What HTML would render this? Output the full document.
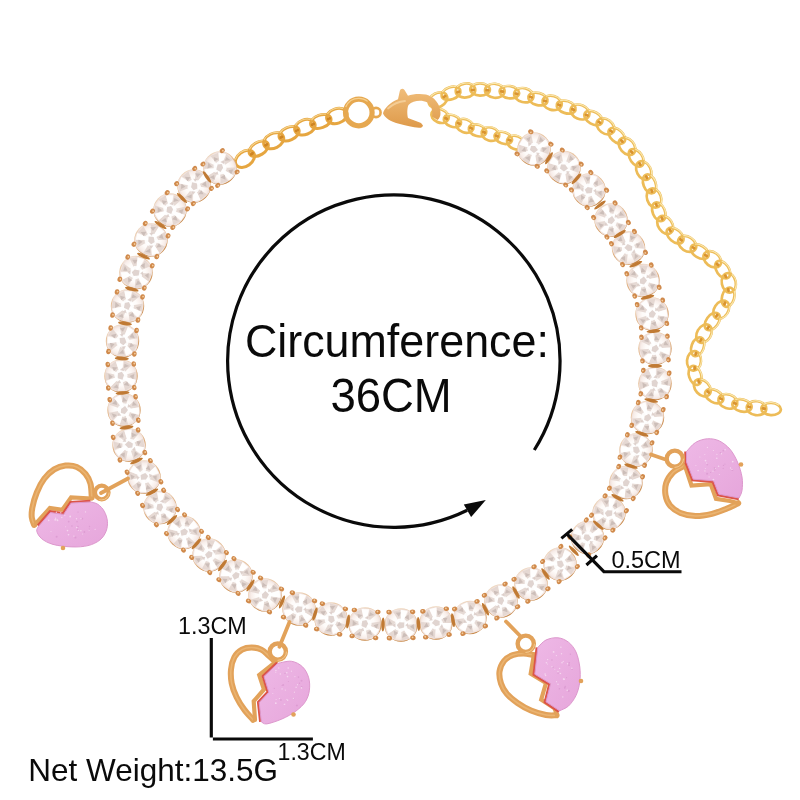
<!DOCTYPE html>
<html><head><meta charset="utf-8"><title>Necklace</title>
<style>
html,body{margin:0;padding:0;background:#fff;}
body{width:800px;height:800px;overflow:hidden;font-family:"Liberation Sans",sans-serif;}
svg{display:block}
text{font-family:"Liberation Sans",sans-serif;fill:#0a0a0a}
</style></head><body>
<svg width="800" height="800" viewBox="0 0 800 800">
<defs>
<radialGradient id="sg" cx="50%" cy="50%" r="50%">
<stop offset="0" stop-color="#ffffff"/><stop offset=".6" stop-color="#FEFBF9"/><stop offset=".88" stop-color="#F8EEEA"/><stop offset="1" stop-color="#F0E1DB"/>
</radialGradient>
<linearGradient id="pinkg" x1="0" y1="0" x2="1" y2="1">
<stop offset="0" stop-color="#EEB8E6"/><stop offset="1" stop-color="#E6A6DB"/>
</linearGradient>
<linearGradient id="claspg" x1="0" y1="0" x2="0" y2="1">
<stop offset="0" stop-color="#F0BD7A"/><stop offset="1" stop-color="#DE9A4A"/>
</linearGradient>
<filter id="noop" x="0" y="0" width="800" height="800" filterUnits="userSpaceOnUse"><feOffset dx="0" dy="0"/></filter>
<linearGradient id="rimg" x1="0.2" y1="0" x2="0.6" y2="1"><stop offset="0" stop-color="#F1DFCC"/><stop offset=".45" stop-color="#E2B486"/><stop offset="1" stop-color="#C4823F"/></linearGradient>
<g id="rim"><circle r="16.7" fill="url(#rimg)"/></g>
<g id="st">
<rect x="-15.5" y="-15.7" width="31" height="31.4" rx="13.4" fill="url(#sg)"/>
</g>
<g id="pr">
<ellipse cx="-11.8" cy="-13" rx="2.7" ry="2.3" fill="#D08A4C"/><ellipse cx="11.8" cy="-13" rx="2.7" ry="2.3" fill="#D08A4C"/>
<ellipse cx="-11.8" cy="13" rx="2.7" ry="2.3" fill="#D08A4C"/><ellipse cx="11.8" cy="13" rx="2.7" ry="2.3" fill="#D08A4C"/>
<circle cx="-12.2" cy="-13.5" r="0.9" fill="#F4CC9C"/><circle cx="11.4" cy="-13.5" r="0.9" fill="#F4CC9C"/>
<circle cx="-12.2" cy="12.5" r="0.9" fill="#F4CC9C"/><circle cx="11.4" cy="12.5" r="0.9" fill="#F4CC9C"/>
</g>
<g id="fc">
<path d="M0 0L-14.5 -5L-10 -11.5Z M0 0L-3 -15L5 -14.6Z M0 0L11.5 -10.6L15 -3Z M0 0L15 5L10.5 11.5Z M0 0L4.500 14.7L-4 14.9Z M0 0L-11 10.5L-15 3Z" fill="#E2D3CE" opacity=".85"/>
<path d="M-12 -6L-8 -10L-7 -5Z M-1 -13L3 -9L-2 -8Z M9 -9L13 -5L8 -4.500Z M12 4L9 9L7 4Z M2 12.500L-2 9L3 8Z M-10 8L-12.500 3.500L-7 5Z" fill="#C6B6B1" opacity=".8"/>
<path d="M0 0L-10 -11.5L-4 -15Z M0 0L15 -3L15 4.500Z M0 0L-4 14.9L-10.5 11Z" fill="#ffffff" opacity=".9"/>
<path d="M-6 -3L-2 -7L4 -6L7 -1L5 5L-1 7L-6 3Z" fill="#ffffff" opacity=".9"/>
<path d="M-3 -1L1 -4L4 0L1 4L-3 3Z M-5.500 2L-2.500 5.500L-6 6Z M4 -6L7 -3L3.500 -2.500Z" fill="#D8C9C4" opacity=".8"/>
</g>
</defs>
<rect width="800" height="800" fill="#ffffff"/>

<!-- extension chain + chains -->
<g id="chains">
<g transform="translate(438.0 100.0) rotate(-27.2)"><ellipse rx="9.8" ry="7.0" fill="none" stroke="#EDBC58" stroke-width="2.7"/><path d="M-7.4 -5.0A9.8 7.0 0 0 1 7.4 -5.0" fill="none" stroke="#FAE8B0" stroke-width="1.1" stroke-linecap="round"/></g>
<g transform="translate(451.0 93.3) rotate(-19.1)"><ellipse rx="9.8" ry="6.1" fill="none" stroke="#EDBC58" stroke-width="2.7"/><path d="M-7.4 -4.4A9.8 6.1 0 0 1 7.4 -4.4" fill="none" stroke="#FAE8B0" stroke-width="1.1" stroke-linecap="round"/></g>
<g transform="translate(465.5 90.5) rotate(-7.4)"><ellipse rx="9.8" ry="7.0" fill="none" stroke="#EDBC58" stroke-width="2.7"/><path d="M-7.4 -5.0A9.8 7.0 0 0 1 7.4 -5.0" fill="none" stroke="#FAE8B0" stroke-width="1.1" stroke-linecap="round"/></g>
<g transform="translate(480.1 89.5) rotate(0.7)"><ellipse rx="9.8" ry="6.1" fill="none" stroke="#EDBC58" stroke-width="2.7"/><path d="M-7.4 -4.4A9.8 6.1 0 0 1 7.4 -4.4" fill="none" stroke="#FAE8B0" stroke-width="1.1" stroke-linecap="round"/></g>
<g transform="translate(494.8 90.8) rotate(5.2)"><ellipse rx="9.8" ry="7.0" fill="none" stroke="#EDBC58" stroke-width="2.7"/><path d="M-7.4 -5.0A9.8 7.0 0 0 1 7.4 -5.0" fill="none" stroke="#FAE8B0" stroke-width="1.1" stroke-linecap="round"/></g>
<g transform="translate(509.4 92.2) rotate(8.6)"><ellipse rx="9.8" ry="6.1" fill="none" stroke="#EDBC58" stroke-width="2.7"/><path d="M-7.4 -4.4A9.8 6.1 0 0 1 7.4 -4.4" fill="none" stroke="#FAE8B0" stroke-width="1.1" stroke-linecap="round"/></g>
<g transform="translate(523.8 95.2) rotate(13.5)"><ellipse rx="9.8" ry="7.0" fill="none" stroke="#EDBC58" stroke-width="2.7"/><path d="M-7.4 -5.0A9.8 7.0 0 0 1 7.4 -5.0" fill="none" stroke="#FAE8B0" stroke-width="1.1" stroke-linecap="round"/></g>
<g transform="translate(537.9 99.0) rotate(15.2)"><ellipse rx="9.8" ry="6.1" fill="none" stroke="#EDBC58" stroke-width="2.7"/><path d="M-7.4 -4.4A9.8 6.1 0 0 1 7.4 -4.4" fill="none" stroke="#FAE8B0" stroke-width="1.1" stroke-linecap="round"/></g>
<g transform="translate(552.1 102.9) rotate(15.9)"><ellipse rx="9.8" ry="7.0" fill="none" stroke="#EDBC58" stroke-width="2.7"/><path d="M-7.4 -5.0A9.8 7.0 0 0 1 7.4 -5.0" fill="none" stroke="#FAE8B0" stroke-width="1.1" stroke-linecap="round"/></g>
<g transform="translate(566.2 107.1) rotate(18.1)"><ellipse rx="9.8" ry="6.1" fill="none" stroke="#EDBC58" stroke-width="2.7"/><path d="M-7.4 -4.4A9.8 6.1 0 0 1 7.4 -4.4" fill="none" stroke="#FAE8B0" stroke-width="1.1" stroke-linecap="round"/></g>
<g transform="translate(580.0 112.0) rotate(22.2)"><ellipse rx="9.8" ry="7.0" fill="none" stroke="#EDBC58" stroke-width="2.7"/><path d="M-7.4 -5.0A9.8 7.0 0 0 1 7.4 -5.0" fill="none" stroke="#FAE8B0" stroke-width="1.1" stroke-linecap="round"/></g>
<g transform="translate(593.4 118.1) rotate(29.5)"><ellipse rx="9.8" ry="6.1" fill="none" stroke="#EDBC58" stroke-width="2.7"/><path d="M-7.4 -4.4A9.8 6.1 0 0 1 7.4 -4.4" fill="none" stroke="#FAE8B0" stroke-width="1.1" stroke-linecap="round"/></g>
<g transform="translate(605.5 126.4) rotate(37.0)"><ellipse rx="9.8" ry="7.0" fill="none" stroke="#EDBC58" stroke-width="2.7"/><path d="M-7.4 -5.0A9.8 7.0 0 0 1 7.4 -5.0" fill="none" stroke="#FAE8B0" stroke-width="1.1" stroke-linecap="round"/></g>
<g transform="translate(616.8 135.8) rotate(42.7)"><ellipse rx="9.8" ry="6.1" fill="none" stroke="#EDBC58" stroke-width="2.7"/><path d="M-7.4 -4.4A9.8 6.1 0 0 1 7.4 -4.4" fill="none" stroke="#FAE8B0" stroke-width="1.1" stroke-linecap="round"/></g>
<g transform="translate(627.0 146.3) rotate(48.6)"><ellipse rx="9.8" ry="7.0" fill="none" stroke="#EDBC58" stroke-width="2.7"/><path d="M-7.4 -5.0A9.8 7.0 0 0 1 7.4 -5.0" fill="none" stroke="#FAE8B0" stroke-width="1.1" stroke-linecap="round"/></g>
<g transform="translate(636.2 157.8) rotate(55.4)"><ellipse rx="9.8" ry="6.1" fill="none" stroke="#EDBC58" stroke-width="2.7"/><path d="M-7.4 -4.4A9.8 6.1 0 0 1 7.4 -4.4" fill="none" stroke="#FAE8B0" stroke-width="1.1" stroke-linecap="round"/></g>
<g transform="translate(643.7 170.5) rotate(62.9)"><ellipse rx="9.8" ry="7.0" fill="none" stroke="#EDBC58" stroke-width="2.7"/><path d="M-7.4 -5.0A9.8 7.0 0 0 1 7.4 -5.0" fill="none" stroke="#FAE8B0" stroke-width="1.1" stroke-linecap="round"/></g>
<g transform="translate(649.5 183.9) rotate(69.5)"><ellipse rx="9.8" ry="6.1" fill="none" stroke="#EDBC58" stroke-width="2.7"/><path d="M-7.4 -4.4A9.8 6.1 0 0 1 7.4 -4.4" fill="none" stroke="#FAE8B0" stroke-width="1.1" stroke-linecap="round"/></g>
<g transform="translate(654.0 198.0) rotate(71.6)"><ellipse rx="9.8" ry="7.0" fill="none" stroke="#EDBC58" stroke-width="2.7"/><path d="M-7.4 -5.0A9.8 7.0 0 0 1 7.4 -5.0" fill="none" stroke="#FAE8B0" stroke-width="1.1" stroke-linecap="round"/></g>
<g transform="translate(658.8 211.8) rotate(67.4)"><ellipse rx="9.8" ry="6.1" fill="none" stroke="#EDBC58" stroke-width="2.7"/><path d="M-7.4 -4.4A9.8 6.1 0 0 1 7.4 -4.4" fill="none" stroke="#FAE8B0" stroke-width="1.1" stroke-linecap="round"/></g>
<g transform="translate(665.2 224.9) rotate(55.7)"><ellipse rx="9.8" ry="7.0" fill="none" stroke="#EDBC58" stroke-width="2.7"/><path d="M-7.4 -5.0A9.8 7.0 0 0 1 7.4 -5.0" fill="none" stroke="#FAE8B0" stroke-width="1.1" stroke-linecap="round"/></g>
<g transform="translate(675.1 235.6) rotate(40.8)"><ellipse rx="9.8" ry="6.1" fill="none" stroke="#EDBC58" stroke-width="2.7"/><path d="M-7.4 -4.4A9.8 6.1 0 0 1 7.4 -4.4" fill="none" stroke="#FAE8B0" stroke-width="1.1" stroke-linecap="round"/></g>
<g transform="translate(687.2 243.9) rotate(33.1)"><ellipse rx="9.8" ry="7.0" fill="none" stroke="#EDBC58" stroke-width="2.7"/><path d="M-7.4 -5.0A9.8 7.0 0 0 1 7.4 -5.0" fill="none" stroke="#FAE8B0" stroke-width="1.1" stroke-linecap="round"/></g>
<g transform="translate(699.7 251.7) rotate(31.5)"><ellipse rx="9.8" ry="6.1" fill="none" stroke="#EDBC58" stroke-width="2.7"/><path d="M-7.4 -4.4A9.8 6.1 0 0 1 7.4 -4.4" fill="none" stroke="#FAE8B0" stroke-width="1.1" stroke-linecap="round"/></g>
<g transform="translate(712.3 259.3) rotate(38.0)"><ellipse rx="9.8" ry="7.0" fill="none" stroke="#EDBC58" stroke-width="2.7"/><path d="M-7.4 -5.0A9.8 7.0 0 0 1 7.4 -5.0" fill="none" stroke="#FAE8B0" stroke-width="1.1" stroke-linecap="round"/></g>
<g transform="translate(722.7 269.7) rotate(55.1)"><ellipse rx="9.8" ry="6.1" fill="none" stroke="#EDBC58" stroke-width="2.7"/><path d="M-7.4 -4.4A9.8 6.1 0 0 1 7.4 -4.4" fill="none" stroke="#FAE8B0" stroke-width="1.1" stroke-linecap="round"/></g>
<g transform="translate(728.8 282.9) rotate(78.8)"><ellipse rx="9.8" ry="7.0" fill="none" stroke="#EDBC58" stroke-width="2.7"/><path d="M-7.4 -5.0A9.8 7.0 0 0 1 7.4 -5.0" fill="none" stroke="#FAE8B0" stroke-width="1.1" stroke-linecap="round"/></g>
<g transform="translate(728.1 297.2) rotate(105.7)"><ellipse rx="9.8" ry="6.1" fill="none" stroke="#EDBC58" stroke-width="2.7"/><path d="M-7.4 -4.4A9.8 6.1 0 0 1 7.4 -4.4" fill="none" stroke="#FAE8B0" stroke-width="1.1" stroke-linecap="round"/></g>
<g transform="translate(721.2 309.8) rotate(123.1)"><ellipse rx="9.8" ry="7.0" fill="none" stroke="#EDBC58" stroke-width="2.7"/><path d="M-7.4 -5.0A9.8 7.0 0 0 1 7.4 -5.0" fill="none" stroke="#FAE8B0" stroke-width="1.1" stroke-linecap="round"/></g>
<g transform="translate(712.3 321.5) rotate(125.8)"><ellipse rx="9.8" ry="6.1" fill="none" stroke="#EDBC58" stroke-width="2.7"/><path d="M-7.4 -4.4A9.8 6.1 0 0 1 7.4 -4.4" fill="none" stroke="#FAE8B0" stroke-width="1.1" stroke-linecap="round"/></g>
<g transform="translate(704.0 333.6) rotate(120.2)"><ellipse rx="9.8" ry="7.0" fill="none" stroke="#EDBC58" stroke-width="2.7"/><path d="M-7.4 -5.0A9.8 7.0 0 0 1 7.4 -5.0" fill="none" stroke="#FAE8B0" stroke-width="1.1" stroke-linecap="round"/></g>
<g transform="translate(697.6 346.8) rotate(110.2)"><ellipse rx="9.8" ry="6.1" fill="none" stroke="#EDBC58" stroke-width="2.7"/><path d="M-7.4 -4.4A9.8 6.1 0 0 1 7.4 -4.4" fill="none" stroke="#FAE8B0" stroke-width="1.1" stroke-linecap="round"/></g>
<g transform="translate(694.0 360.9) rotate(94.9)"><ellipse rx="9.8" ry="7.0" fill="none" stroke="#EDBC58" stroke-width="2.7"/><path d="M-7.4 -5.0A9.8 7.0 0 0 1 7.4 -5.0" fill="none" stroke="#FAE8B0" stroke-width="1.1" stroke-linecap="round"/></g>
<g transform="translate(695.1 375.4) rotate(72.8)"><ellipse rx="9.8" ry="6.1" fill="none" stroke="#EDBC58" stroke-width="2.7"/><path d="M-7.4 -4.4A9.8 6.1 0 0 1 7.4 -4.4" fill="none" stroke="#FAE8B0" stroke-width="1.1" stroke-linecap="round"/></g>
<g transform="translate(702.3 387.8) rotate(47.7)"><ellipse rx="9.8" ry="7.0" fill="none" stroke="#EDBC58" stroke-width="2.7"/><path d="M-7.4 -5.0A9.8 7.0 0 0 1 7.4 -5.0" fill="none" stroke="#FAE8B0" stroke-width="1.1" stroke-linecap="round"/></g>
<g transform="translate(714.2 396.2) rotate(28.0)"><ellipse rx="9.8" ry="6.1" fill="none" stroke="#EDBC58" stroke-width="2.7"/><path d="M-7.4 -4.4A9.8 6.1 0 0 1 7.4 -4.4" fill="none" stroke="#FAE8B0" stroke-width="1.1" stroke-linecap="round"/></g>
<g transform="translate(727.9 401.4) rotate(18.3)"><ellipse rx="9.8" ry="7.0" fill="none" stroke="#EDBC58" stroke-width="2.7"/><path d="M-7.4 -5.0A9.8 7.0 0 0 1 7.4 -5.0" fill="none" stroke="#FAE8B0" stroke-width="1.1" stroke-linecap="round"/></g>
<g transform="translate(742.0 405.5) rotate(13.5)"><ellipse rx="9.8" ry="6.1" fill="none" stroke="#EDBC58" stroke-width="2.7"/><path d="M-7.4 -4.4A9.8 6.1 0 0 1 7.4 -4.4" fill="none" stroke="#FAE8B0" stroke-width="1.1" stroke-linecap="round"/></g>
<g transform="translate(756.5 408.2) rotate(6.9)"><ellipse rx="9.8" ry="7.0" fill="none" stroke="#EDBC58" stroke-width="2.7"/><path d="M-7.4 -5.0A9.8 7.0 0 0 1 7.4 -5.0" fill="none" stroke="#FAE8B0" stroke-width="1.1" stroke-linecap="round"/></g>
<g transform="translate(771.1 409.0) rotate(2.9)"><ellipse rx="9.8" ry="6.1" fill="none" stroke="#EDBC58" stroke-width="2.7"/><path d="M-7.4 -4.4A9.8 6.1 0 0 1 7.4 -4.4" fill="none" stroke="#FAE8B0" stroke-width="1.1" stroke-linecap="round"/></g>
<g transform="translate(444.5 96.6) rotate(-27.2)"><ellipse rx="2.3" ry="1.5" fill="#DA9430"/></g>
<g transform="translate(458.2 91.9) rotate(-19.1)"><ellipse rx="2.3" ry="1.5" fill="#DA9430"/></g>
<g transform="translate(472.8 90.0) rotate(-7.4)"><ellipse rx="2.3" ry="1.5" fill="#DA9430"/></g>
<g transform="translate(487.4 90.2) rotate(0.7)"><ellipse rx="2.3" ry="1.5" fill="#DA9430"/></g>
<g transform="translate(502.1 91.5) rotate(5.2)"><ellipse rx="2.3" ry="1.5" fill="#DA9430"/></g>
<g transform="translate(516.6 93.7) rotate(8.6)"><ellipse rx="2.3" ry="1.5" fill="#DA9430"/></g>
<g transform="translate(530.9 97.1) rotate(13.5)"><ellipse rx="2.3" ry="1.5" fill="#DA9430"/></g>
<g transform="translate(545.0 101.0) rotate(15.2)"><ellipse rx="2.3" ry="1.5" fill="#DA9430"/></g>
<g transform="translate(559.2 105.0) rotate(15.9)"><ellipse rx="2.3" ry="1.5" fill="#DA9430"/></g>
<g transform="translate(573.1 109.5) rotate(18.1)"><ellipse rx="2.3" ry="1.5" fill="#DA9430"/></g>
<g transform="translate(586.7 115.1) rotate(22.2)"><ellipse rx="2.3" ry="1.5" fill="#DA9430"/></g>
<g transform="translate(599.4 122.3) rotate(29.5)"><ellipse rx="2.3" ry="1.5" fill="#DA9430"/></g>
<g transform="translate(611.1 131.1) rotate(37.0)"><ellipse rx="2.3" ry="1.5" fill="#DA9430"/></g>
<g transform="translate(621.9 141.1) rotate(42.7)"><ellipse rx="2.3" ry="1.5" fill="#DA9430"/></g>
<g transform="translate(631.6 152.1) rotate(48.6)"><ellipse rx="2.3" ry="1.5" fill="#DA9430"/></g>
<g transform="translate(639.9 164.1) rotate(55.4)"><ellipse rx="2.3" ry="1.5" fill="#DA9430"/></g>
<g transform="translate(646.6 177.2) rotate(62.9)"><ellipse rx="2.3" ry="1.5" fill="#DA9430"/></g>
<g transform="translate(651.8 190.9) rotate(69.5)"><ellipse rx="2.3" ry="1.5" fill="#DA9430"/></g>
<g transform="translate(656.4 204.9) rotate(71.6)"><ellipse rx="2.3" ry="1.5" fill="#DA9430"/></g>
<g transform="translate(662.0 218.4) rotate(67.4)"><ellipse rx="2.3" ry="1.5" fill="#DA9430"/></g>
<g transform="translate(670.1 230.3) rotate(55.7)"><ellipse rx="2.3" ry="1.5" fill="#DA9430"/></g>
<g transform="translate(681.1 239.8) rotate(40.8)"><ellipse rx="2.3" ry="1.5" fill="#DA9430"/></g>
<g transform="translate(693.5 247.8) rotate(33.1)"><ellipse rx="2.3" ry="1.5" fill="#DA9430"/></g>
<g transform="translate(706.0 255.5) rotate(31.5)"><ellipse rx="2.3" ry="1.5" fill="#DA9430"/></g>
<g transform="translate(717.5 264.5) rotate(38.0)"><ellipse rx="2.3" ry="1.5" fill="#DA9430"/></g>
<g transform="translate(725.7 276.3) rotate(55.1)"><ellipse rx="2.3" ry="1.5" fill="#DA9430"/></g>
<g transform="translate(728.4 290.0) rotate(78.8)"><ellipse rx="2.3" ry="1.5" fill="#DA9430"/></g>
<g transform="translate(724.7 303.5) rotate(105.7)"><ellipse rx="2.3" ry="1.5" fill="#DA9430"/></g>
<g transform="translate(716.7 315.7) rotate(123.1)"><ellipse rx="2.3" ry="1.5" fill="#DA9430"/></g>
<g transform="translate(708.2 327.6) rotate(125.8)"><ellipse rx="2.3" ry="1.5" fill="#DA9430"/></g>
<g transform="translate(700.8 340.2) rotate(120.2)"><ellipse rx="2.3" ry="1.5" fill="#DA9430"/></g>
<g transform="translate(695.8 353.8) rotate(110.2)"><ellipse rx="2.3" ry="1.5" fill="#DA9430"/></g>
<g transform="translate(694.6 368.1) rotate(94.9)"><ellipse rx="2.3" ry="1.5" fill="#DA9430"/></g>
<g transform="translate(698.7 381.6) rotate(72.8)"><ellipse rx="2.3" ry="1.5" fill="#DA9430"/></g>
<g transform="translate(708.2 392.0) rotate(47.7)"><ellipse rx="2.3" ry="1.5" fill="#DA9430"/></g>
<g transform="translate(721.0 398.8) rotate(28.0)"><ellipse rx="2.3" ry="1.5" fill="#DA9430"/></g>
<g transform="translate(735.0 403.4) rotate(18.3)"><ellipse rx="2.3" ry="1.5" fill="#DA9430"/></g>
<g transform="translate(749.2 406.9) rotate(13.5)"><ellipse rx="2.3" ry="1.5" fill="#DA9430"/></g>
<g transform="translate(763.8 408.6) rotate(6.9)"><ellipse rx="2.3" ry="1.5" fill="#DA9430"/></g>
<g transform="translate(245.0 158.8) rotate(-36.3)"><ellipse rx="10.6" ry="7.3" fill="none" stroke="#E6A640" stroke-width="3.0"/><path d="M-7.9 -5.3A10.6 7.3 0 0 1 7.9 -5.3" fill="none" stroke="#F6D590" stroke-width="1.1" stroke-linecap="round"/></g>
<g transform="translate(258.7 148.7) rotate(-32.0)"><ellipse rx="10.6" ry="6.4" fill="none" stroke="#E6A640" stroke-width="3.0"/><path d="M-7.9 -4.6A10.6 6.4 0 0 1 7.9 -4.6" fill="none" stroke="#F6D590" stroke-width="1.1" stroke-linecap="round"/></g>
<g transform="translate(273.7 140.8) rotate(-26.4)"><ellipse rx="10.6" ry="7.3" fill="none" stroke="#E6A640" stroke-width="3.0"/><path d="M-7.9 -5.3A10.6 7.3 0 0 1 7.9 -5.3" fill="none" stroke="#F6D590" stroke-width="1.1" stroke-linecap="round"/></g>
<g transform="translate(289.1 133.7) rotate(-23.6)"><ellipse rx="10.6" ry="6.4" fill="none" stroke="#E6A640" stroke-width="3.0"/><path d="M-7.9 -4.6A10.6 6.4 0 0 1 7.9 -4.6" fill="none" stroke="#F6D590" stroke-width="1.1" stroke-linecap="round"/></g>
<g transform="translate(304.9 127.2) rotate(-21.2)"><ellipse rx="10.6" ry="7.3" fill="none" stroke="#E6A640" stroke-width="3.0"/><path d="M-7.9 -5.3A10.6 7.3 0 0 1 7.9 -5.3" fill="none" stroke="#F6D590" stroke-width="1.1" stroke-linecap="round"/></g>
<g transform="translate(320.8 121.4) rotate(-19.4)"><ellipse rx="10.6" ry="6.4" fill="none" stroke="#E6A640" stroke-width="3.0"/><path d="M-7.9 -4.6A10.6 6.4 0 0 1 7.9 -4.6" fill="none" stroke="#F6D590" stroke-width="1.1" stroke-linecap="round"/></g>
<g transform="translate(336.9 116.0) rotate(-18.5)"><ellipse rx="10.6" ry="7.3" fill="none" stroke="#E6A640" stroke-width="3.0"/><path d="M-7.9 -5.3A10.6 7.3 0 0 1 7.9 -5.3" fill="none" stroke="#F6D590" stroke-width="1.1" stroke-linecap="round"/></g>
<g transform="translate(251.9 153.8) rotate(-36.3)"><ellipse rx="2.3" ry="1.5" fill="#CF8422"/></g>
<g transform="translate(266.2 144.8) rotate(-32.0)"><ellipse rx="2.3" ry="1.5" fill="#CF8422"/></g>
<g transform="translate(281.4 137.2) rotate(-26.4)"><ellipse rx="2.3" ry="1.5" fill="#CF8422"/></g>
<g transform="translate(297.0 130.5) rotate(-23.6)"><ellipse rx="2.3" ry="1.5" fill="#CF8422"/></g>
<g transform="translate(312.9 124.3) rotate(-21.2)"><ellipse rx="2.3" ry="1.5" fill="#CF8422"/></g>
<g transform="translate(328.9 118.7) rotate(-19.4)"><ellipse rx="2.3" ry="1.5" fill="#CF8422"/></g>
<g transform="translate(440.0 116.0) rotate(21.8)"><ellipse rx="9" ry="6.6" fill="none" stroke="#EDBC58" stroke-width="2.7"/><path d="M-6.8 -4.8A9 6.6 0 0 1 6.8 -4.8" fill="none" stroke="#FAE8B0" stroke-width="1.1" stroke-linecap="round"/></g>
<g transform="translate(452.4 121.0) rotate(21.7)"><ellipse rx="9" ry="5.7" fill="none" stroke="#EDBC58" stroke-width="2.7"/><path d="M-6.8 -4.1A9 5.7 0 0 1 6.8 -4.1" fill="none" stroke="#FAE8B0" stroke-width="1.1" stroke-linecap="round"/></g>
<g transform="translate(464.9 125.9) rotate(20.7)"><ellipse rx="9" ry="6.6" fill="none" stroke="#EDBC58" stroke-width="2.7"/><path d="M-6.8 -4.8A9 6.6 0 0 1 6.8 -4.8" fill="none" stroke="#FAE8B0" stroke-width="1.1" stroke-linecap="round"/></g>
<g transform="translate(477.5 130.4) rotate(17.9)"><ellipse rx="9" ry="5.7" fill="none" stroke="#EDBC58" stroke-width="2.7"/><path d="M-6.8 -4.1A9 5.7 0 0 1 6.8 -4.1" fill="none" stroke="#FAE8B0" stroke-width="1.1" stroke-linecap="round"/></g>
<g transform="translate(490.4 134.1) rotate(16.1)"><ellipse rx="9" ry="6.6" fill="none" stroke="#EDBC58" stroke-width="2.7"/><path d="M-6.8 -4.8A9 6.6 0 0 1 6.8 -4.8" fill="none" stroke="#FAE8B0" stroke-width="1.1" stroke-linecap="round"/></g>
<g transform="translate(503.3 137.9) rotate(18.6)"><ellipse rx="9" ry="5.7" fill="none" stroke="#EDBC58" stroke-width="2.7"/><path d="M-6.8 -4.1A9 5.7 0 0 1 6.8 -4.1" fill="none" stroke="#FAE8B0" stroke-width="1.1" stroke-linecap="round"/></g>
<g transform="translate(515.8 142.6) rotate(20.9)"><ellipse rx="9" ry="6.6" fill="none" stroke="#EDBC58" stroke-width="2.7"/><path d="M-6.8 -4.8A9 6.6 0 0 1 6.8 -4.8" fill="none" stroke="#FAE8B0" stroke-width="1.1" stroke-linecap="round"/></g>
<g transform="translate(446.2 118.5) rotate(21.8)"><ellipse rx="2.3" ry="1.5" fill="#DA9430"/></g>
<g transform="translate(458.7 123.4) rotate(21.7)"><ellipse rx="2.3" ry="1.5" fill="#DA9430"/></g>
<g transform="translate(471.2 128.2) rotate(20.7)"><ellipse rx="2.3" ry="1.5" fill="#DA9430"/></g>
<g transform="translate(484.0 132.3) rotate(17.9)"><ellipse rx="2.3" ry="1.5" fill="#DA9430"/></g>
<g transform="translate(496.8 136.0) rotate(16.1)"><ellipse rx="2.3" ry="1.5" fill="#DA9430"/></g>
<g transform="translate(509.5 140.2) rotate(18.6)"><ellipse rx="2.3" ry="1.5" fill="#DA9430"/></g>
</g>

<!-- clasp -->
<g id="clasp">
<circle cx="358.8" cy="112.5" r="13.3" fill="none" stroke="#E6A850" stroke-width="5.2"/>
<circle cx="358.8" cy="112.5" r="14.2" fill="none" stroke="#F6D08E" stroke-width="1.2" stroke-dasharray="26 80" stroke-dashoffset="-50"/>
<circle cx="376" cy="112.5" r="4.6" fill="none" stroke="#E6A850" stroke-width="2.6"/>
<path fill="url(#claspg)" d="M383 113.2 C384.5 108 390 102.5 398 99.2 L399.8 91 C400.5 88.5 403 88 404.5 90 L408 95.8 C412 94 420 93.4 426 94.5 C434 96.5 440.5 104 440.5 113 C440.5 116 439.5 118.5 437.5 120 L432 116.5 C433 111 431.5 105.5 427.5 102.5 C421 99.5 413 100.8 408.5 105 C407 108 407 114 408 118 C412 119.5 417 121.5 421 123 L423 125.5 C422.5 127.500 421 128 419 127.800 C413 127.500 406 125.500 398 123.600 C391 121.500 384.500 118 383 113.200 Z"/>
<path d="M388 108.500 C393 104 399 101.500 405 101" fill="none" stroke="#F6D3A0" stroke-width="1.800" stroke-linecap="round" opacity=".8"/>
</g>

<!-- rhinestone strand -->
<g id="strand">
<use href="#rim" transform="translate(220 168)"/>
<use href="#st" transform="translate(220 168) rotate(145.3)"/>
<use href="#fc" transform="translate(220 168) rotate(159)"/>
<use href="#rim" transform="translate(194 186)"/>
<use href="#st" transform="translate(194 186) rotate(140.0)"/>
<use href="#fc" transform="translate(194 186) rotate(320)"/>
<use href="#rim" transform="translate(170 210)"/>
<use href="#st" transform="translate(170 210) rotate(128.5)"/>
<use href="#fc" transform="translate(170 210) rotate(149)"/>
<use href="#rim" transform="translate(151 240)"/>
<use href="#st" transform="translate(151 240) rotate(118.5)"/>
<use href="#fc" transform="translate(151 240) rotate(312)"/>
<use href="#rim" transform="translate(136 272.5)"/>
<use href="#st" transform="translate(136 272.5) rotate(109.6)"/>
<use href="#fc" transform="translate(136 272.5) rotate(47)"/>
<use href="#rim" transform="translate(127.5 306)"/>
<use href="#st" transform="translate(127.5 306) rotate(101.1)"/>
<use href="#fc" transform="translate(127.5 306) rotate(153)"/>
<use href="#rim" transform="translate(122.5 341)"/>
<use href="#st" transform="translate(122.5 341) rotate(95.3)"/>
<use href="#fc" transform="translate(122.5 341) rotate(302)"/>
<use href="#rim" transform="translate(121 376)"/>
<use href="#st" transform="translate(121 376) rotate(88.8)"/>
<use href="#fc" transform="translate(121 376) rotate(145)"/>
<use href="#rim" transform="translate(124 410)"/>
<use href="#st" transform="translate(124 410) rotate(83.4)"/>
<use href="#fc" transform="translate(124 410) rotate(1)"/>
<use href="#rim" transform="translate(129 445)"/>
<use href="#st" transform="translate(129 445) rotate(73.4)"/>
<use href="#fc" transform="translate(129 445) rotate(263)"/>
<use href="#rim" transform="translate(144 477)"/>
<use href="#st" transform="translate(144 477) rotate(63.6)"/>
<use href="#fc" transform="translate(144 477) rotate(212)"/>
<use href="#rim" transform="translate(160 507.5)"/>
<use href="#st" transform="translate(160 507.5) rotate(54.2)"/>
<use href="#fc" transform="translate(160 507.5) rotate(154)"/>
<use href="#rim" transform="translate(184 532.5)"/>
<use href="#st" transform="translate(184 532.5) rotate(44.1)"/>
<use href="#fc" transform="translate(184 532.5) rotate(204)"/>
<use href="#rim" transform="translate(209 555)"/>
<use href="#st" transform="translate(209 555) rotate(39.9)"/>
<use href="#fc" transform="translate(209 555) rotate(188)"/>
<use href="#rim" transform="translate(236 576)"/>
<use href="#st" transform="translate(236 576) rotate(35.5)"/>
<use href="#fc" transform="translate(236 576) rotate(190)"/>
<use href="#rim" transform="translate(265 595)"/>
<use href="#st" transform="translate(265 595) rotate(27.6)"/>
<use href="#fc" transform="translate(265 595) rotate(-7)"/>
<use href="#rim" transform="translate(299 609)"/>
<use href="#st" transform="translate(299 609) rotate(20.0)"/>
<use href="#fc" transform="translate(299 609) rotate(42)"/>
<use href="#rim" transform="translate(331 619)"/>
<use href="#st" transform="translate(331 619) rotate(12.8)"/>
<use href="#fc" transform="translate(331 619) rotate(309)"/>
<use href="#rim" transform="translate(365 624)"/>
<use href="#st" transform="translate(365 624) rotate(4.9)"/>
<use href="#fc" transform="translate(365 624) rotate(152)"/>
<use href="#rim" transform="translate(401 625)"/>
<use href="#st" transform="translate(401 625) rotate(-0.8)"/>
<use href="#fc" transform="translate(401 625) rotate(40)"/>
<use href="#rim" transform="translate(436 623)"/>
<use href="#st" transform="translate(436 623) rotate(-6.2)"/>
<use href="#fc" transform="translate(436 623) rotate(255)"/>
<use href="#rim" transform="translate(470 617.5)"/>
<use href="#st" transform="translate(470 617.5) rotate(-18.7)"/>
<use href="#fc" transform="translate(470 617.5) rotate(4)"/>
<use href="#rim" transform="translate(501 601)"/>
<use href="#st" transform="translate(501 601) rotate(-28.8)"/>
<use href="#fc" transform="translate(501 601) rotate(154)"/>
<use href="#rim" transform="translate(531 584)"/>
<use href="#st" transform="translate(531 584) rotate(-32.1)"/>
<use href="#fc" transform="translate(531 584) rotate(162)"/>
<use href="#rim" transform="translate(560 564)"/>
<use href="#st" transform="translate(560 564) rotate(-39.5)"/>
<use href="#fc" transform="translate(560 564) rotate(300)"/>
<use href="#rim" transform="translate(587.5 537.5)"/>
<use href="#st" transform="translate(587.5 537.5) rotate(-46.1)"/>
<use href="#fc" transform="translate(587.5 537.5) rotate(91)"/>
<use href="#rim" transform="translate(609 513)"/>
<use href="#st" transform="translate(609 513) rotate(-55.0)"/>
<use href="#fc" transform="translate(609 513) rotate(40)"/>
<use href="#rim" transform="translate(626 482.5)"/>
<use href="#st" transform="translate(626 482.5) rotate(-66.8)"/>
<use href="#fc" transform="translate(626 482.5) rotate(-10)"/>
<use href="#rim" transform="translate(636 450)"/>
<use href="#st" transform="translate(636 450) rotate(-71.7)"/>
<use href="#fc" transform="translate(636 450) rotate(301)"/>
<use href="#rim" transform="translate(647.5 417.5)"/>
<use href="#st" transform="translate(647.5 417.5) rotate(-74.1)"/>
<use href="#fc" transform="translate(647.5 417.5) rotate(8)"/>
<use href="#rim" transform="translate(655 383.5)"/>
<use href="#st" transform="translate(655 383.5) rotate(-83.8)"/>
<use href="#fc" transform="translate(655 383.5) rotate(140)"/>
<use href="#rim" transform="translate(655 348.5)"/>
<use href="#st" transform="translate(655 348.5) rotate(-92.5)"/>
<use href="#fc" transform="translate(655 348.5) rotate(8)"/>
<use href="#rim" transform="translate(652 314)"/>
<use href="#st" transform="translate(652 314) rotate(-100.0)"/>
<use href="#fc" transform="translate(652 314) rotate(-7)"/>
<use href="#rim" transform="translate(643 280.5)"/>
<use href="#st" transform="translate(643 280.5) rotate(-109.6)"/>
<use href="#fc" transform="translate(643 280.5) rotate(-1)"/>
<use href="#rim" transform="translate(628.5 248)"/>
<use href="#st" transform="translate(628.5 248) rotate(-117.9)"/>
<use href="#fc" transform="translate(628.5 248) rotate(258)"/>
<use href="#rim" transform="translate(611 220)"/>
<use href="#st" transform="translate(611 220) rotate(-124.3)"/>
<use href="#fc" transform="translate(611 220) rotate(2)"/>
<use href="#rim" transform="translate(589 190)"/>
<use href="#st" transform="translate(589 190) rotate(-131.8)"/>
<use href="#fc" transform="translate(589 190) rotate(47)"/>
<use href="#rim" transform="translate(564 167.5)"/>
<use href="#st" transform="translate(564 167.5) rotate(-143.3)"/>
<use href="#fc" transform="translate(564 167.5) rotate(91)"/>
<use href="#rim" transform="translate(534 149)"/>
<use href="#st" transform="translate(534 149) rotate(-148.3)"/>
<use href="#fc" transform="translate(534 149) rotate(91)"/>
<g transform="translate(207.0 177.0) rotate(145.3)"><ellipse rx="1.7" ry="7" fill="#C07A34"/></g>
<g transform="translate(182.0 198.0) rotate(135.0)"><ellipse rx="1.7" ry="7" fill="#C07A34"/></g>
<g transform="translate(160.5 225.0) rotate(122.3)"><ellipse rx="1.7" ry="7" fill="#C07A34"/></g>
<g transform="translate(143.5 256.2) rotate(114.8)"><ellipse rx="1.7" ry="7" fill="#C07A34"/></g>
<g transform="translate(131.8 289.2) rotate(104.2)"><ellipse rx="1.7" ry="7" fill="#C07A34"/></g>
<g transform="translate(125.0 323.5) rotate(98.1)"><ellipse rx="1.7" ry="7" fill="#C07A34"/></g>
<g transform="translate(121.8 358.5) rotate(92.5)"><ellipse rx="1.7" ry="7" fill="#C07A34"/></g>
<g transform="translate(122.5 393.0) rotate(85.0)"><ellipse rx="1.7" ry="7" fill="#C07A34"/></g>
<g transform="translate(126.5 427.5) rotate(81.9)"><ellipse rx="1.7" ry="7" fill="#C07A34"/></g>
<g transform="translate(136.5 461.0) rotate(64.9)"><ellipse rx="1.7" ry="7" fill="#C07A34"/></g>
<g transform="translate(152.0 492.2) rotate(62.3)"><ellipse rx="1.7" ry="7" fill="#C07A34"/></g>
<g transform="translate(172.0 520.0) rotate(46.2)"><ellipse rx="1.7" ry="7" fill="#C07A34"/></g>
<g transform="translate(196.5 543.8) rotate(42.0)"><ellipse rx="1.7" ry="7" fill="#C07A34"/></g>
<g transform="translate(222.5 565.5) rotate(37.9)"><ellipse rx="1.7" ry="7" fill="#C07A34"/></g>
<g transform="translate(250.5 585.5) rotate(33.2)"><ellipse rx="1.7" ry="7" fill="#C07A34"/></g>
<g transform="translate(282.0 602.0) rotate(22.4)"><ellipse rx="1.7" ry="7" fill="#C07A34"/></g>
<g transform="translate(315.0 614.0) rotate(17.4)"><ellipse rx="1.7" ry="7" fill="#C07A34"/></g>
<g transform="translate(348.0 621.5) rotate(8.4)"><ellipse rx="1.7" ry="7" fill="#C07A34"/></g>
<g transform="translate(383.0 624.5) rotate(1.6)"><ellipse rx="1.7" ry="7" fill="#C07A34"/></g>
<g transform="translate(418.5 624.0) rotate(-3.3)"><ellipse rx="1.7" ry="7" fill="#C07A34"/></g>
<g transform="translate(453.0 620.2) rotate(-9.2)"><ellipse rx="1.7" ry="7" fill="#C07A34"/></g>
<g transform="translate(485.5 609.2) rotate(-28.0)"><ellipse rx="1.7" ry="7" fill="#C07A34"/></g>
<g transform="translate(516.0 592.5) rotate(-29.5)"><ellipse rx="1.7" ry="7" fill="#C07A34"/></g>
<g transform="translate(545.5 574.0) rotate(-34.6)"><ellipse rx="1.7" ry="7" fill="#C07A34"/></g>
<g transform="translate(573.8 550.8) rotate(-43.9)"><ellipse rx="1.7" ry="7" fill="#C07A34"/></g>
<g transform="translate(598.2 525.2) rotate(-48.7)"><ellipse rx="1.7" ry="7" fill="#C07A34"/></g>
<g transform="translate(617.5 497.8) rotate(-60.9)"><ellipse rx="1.7" ry="7" fill="#C07A34"/></g>
<g transform="translate(631.0 466.2) rotate(-72.9)"><ellipse rx="1.7" ry="7" fill="#C07A34"/></g>
<g transform="translate(641.8 433.8) rotate(-70.5)"><ellipse rx="1.7" ry="7" fill="#C07A34"/></g>
<g transform="translate(651.2 400.5) rotate(-77.6)"><ellipse rx="1.7" ry="7" fill="#C07A34"/></g>
<g transform="translate(655.0 366.0) rotate(-90.0)"><ellipse rx="1.7" ry="7" fill="#C07A34"/></g>
<g transform="translate(653.5 331.2) rotate(-95.0)"><ellipse rx="1.7" ry="7" fill="#C07A34"/></g>
<g transform="translate(647.5 297.2) rotate(-105.0)"><ellipse rx="1.7" ry="7" fill="#C07A34"/></g>
<g transform="translate(635.8 264.2) rotate(-114.0)"><ellipse rx="1.7" ry="7" fill="#C07A34"/></g>
<g transform="translate(619.8 234.0) rotate(-122.0)"><ellipse rx="1.7" ry="7" fill="#C07A34"/></g>
<g transform="translate(600.0 205.0) rotate(-126.3)"><ellipse rx="1.7" ry="7" fill="#C07A34"/></g>
<g transform="translate(576.5 178.8) rotate(-138.0)"><ellipse rx="1.7" ry="7" fill="#C07A34"/></g>
<g transform="translate(549.0 158.2) rotate(-148.3)"><ellipse rx="1.7" ry="7" fill="#C07A34"/></g>
<use href="#pr" transform="translate(220 168) rotate(145.3)"/>
<use href="#pr" transform="translate(194 186) rotate(140.0)"/>
<use href="#pr" transform="translate(170 210) rotate(128.5)"/>
<use href="#pr" transform="translate(151 240) rotate(118.5)"/>
<use href="#pr" transform="translate(136 272.5) rotate(109.6)"/>
<use href="#pr" transform="translate(127.5 306) rotate(101.1)"/>
<use href="#pr" transform="translate(122.5 341) rotate(95.3)"/>
<use href="#pr" transform="translate(121 376) rotate(88.8)"/>
<use href="#pr" transform="translate(124 410) rotate(83.4)"/>
<use href="#pr" transform="translate(129 445) rotate(73.4)"/>
<use href="#pr" transform="translate(144 477) rotate(63.6)"/>
<use href="#pr" transform="translate(160 507.5) rotate(54.2)"/>
<use href="#pr" transform="translate(184 532.5) rotate(44.1)"/>
<use href="#pr" transform="translate(209 555) rotate(39.9)"/>
<use href="#pr" transform="translate(236 576) rotate(35.5)"/>
<use href="#pr" transform="translate(265 595) rotate(27.6)"/>
<use href="#pr" transform="translate(299 609) rotate(20.0)"/>
<use href="#pr" transform="translate(331 619) rotate(12.8)"/>
<use href="#pr" transform="translate(365 624) rotate(4.9)"/>
<use href="#pr" transform="translate(401 625) rotate(-0.8)"/>
<use href="#pr" transform="translate(436 623) rotate(-6.2)"/>
<use href="#pr" transform="translate(470 617.5) rotate(-18.7)"/>
<use href="#pr" transform="translate(501 601) rotate(-28.8)"/>
<use href="#pr" transform="translate(531 584) rotate(-32.1)"/>
<use href="#pr" transform="translate(560 564) rotate(-39.5)"/>
<use href="#pr" transform="translate(587.5 537.5) rotate(-46.1)"/>
<use href="#pr" transform="translate(609 513) rotate(-55.0)"/>
<use href="#pr" transform="translate(626 482.5) rotate(-66.8)"/>
<use href="#pr" transform="translate(636 450) rotate(-71.7)"/>
<use href="#pr" transform="translate(647.5 417.5) rotate(-74.1)"/>
<use href="#pr" transform="translate(655 383.5) rotate(-83.8)"/>
<use href="#pr" transform="translate(655 348.5) rotate(-92.5)"/>
<use href="#pr" transform="translate(652 314) rotate(-100.0)"/>
<use href="#pr" transform="translate(643 280.5) rotate(-109.6)"/>
<use href="#pr" transform="translate(628.5 248) rotate(-117.9)"/>
<use href="#pr" transform="translate(611 220) rotate(-124.3)"/>
<use href="#pr" transform="translate(589 190) rotate(-131.8)"/>
<use href="#pr" transform="translate(564 167.5) rotate(-143.3)"/>
<use href="#pr" transform="translate(534 149) rotate(-148.3)"/>
</g>

<!-- hearts -->
<g id="hearts">
<line x1="101" y1="493" x2="128" y2="478.5" stroke="#E2A25A" stroke-width="3.8" stroke-linecap="round"/>
<path d="M34.2 525.0 C33.8 523.8 32.1 520.4 31.8 517.5 C31.4 514.6 31.6 511.7 32.4 507.5 C33.2 503.3 34.8 497.3 36.8 492.5 C38.7 487.7 41.3 482.6 44.2 478.8 C47.2 474.9 50.7 471.6 54.2 469.4 C57.8 467.2 61.8 466.0 65.5 465.6 C69.2 465.2 73.4 465.5 76.8 466.9 C80.1 468.3 83.2 470.9 85.5 473.8 C87.8 476.6 89.5 479.8 90.5 483.8 C91.5 487.7 91.5 495.2 91.8 497.5" fill="none" stroke="#E2A25A" stroke-width="6" stroke-linecap="round" stroke-linejoin="round"/>
<path d="M34.2 525.0 C33.8 523.8 32.1 520.4 31.8 517.5 C31.4 514.6 31.6 511.7 32.4 507.5 C33.2 503.3 34.8 497.3 36.8 492.5 C38.7 487.7 41.3 482.6 44.2 478.8 C47.2 474.9 50.7 471.6 54.2 469.4 C57.8 467.2 61.8 466.0 65.5 465.6 C69.2 465.2 73.4 465.5 76.8 466.9 C80.1 468.3 83.2 470.9 85.5 473.8 C87.8 476.6 89.5 479.8 90.5 483.8 C91.5 487.7 91.5 495.2 91.8 497.5" fill="none" stroke="#F3C98E" stroke-width="1.6" stroke-linecap="round" opacity=".45"/>
<polyline points="91.8,498.5 71.1,497.5 62.4,509.8 49.9,508.1 35.5,524.0" fill="none" stroke="#E2A25A" stroke-width="4.2" stroke-linejoin="miter" stroke-linecap="round"/>
<polyline points="38.6,526.2 50.5,512.5 63.6,514.4 71.1,503.1 90.5,501.9" fill="none" stroke="#DC5548" stroke-width="4.5" stroke-linejoin="miter"/>
<path d="M90.5 501.9 C91.8 502.3 95.7 502.8 98.0 504.4 C100.3 506.0 102.7 508.4 104.2 511.2 C105.8 514.1 107.1 517.9 107.4 521.2 C107.7 524.6 107.3 528.1 106.1 531.2 C104.8 534.4 102.9 537.6 99.9 540.0 C96.9 542.4 92.7 544.5 88.0 545.6 C83.3 546.8 77.6 547.1 71.8 546.9 C65.9 546.7 58.0 545.8 53.0 544.4 C48.0 543.0 44.5 540.9 41.8 538.8 C39.0 536.6 37.3 533.3 36.8 531.2 C36.2 529.2 38.3 527.1 38.6 526.2 L50.5 512.5 L63.6 514.4 L71.1 503.1 Z" fill="url(#pinkg)" stroke="#DD98CD" stroke-width="1"/>
<circle cx="101.75" cy="492.5" r="6.8" fill="none" stroke="#E2A25A" stroke-width="4.2"/>
<circle cx="101.75" cy="492.5" r="7.3999999999999995" fill="none" stroke="#F3C98E" stroke-width="1" stroke-dasharray="14 60"/>
<circle cx="63" cy="548" r="2.3" fill="#E2A25A"/>
<line x1="279.4" y1="646.8" x2="289.5" y2="622" stroke="#E2A25A" stroke-width="3.8" stroke-linecap="round"/>
<path d="M275.0 661.3 C274.0 660.4 271.1 657.8 268.8 655.8 C266.5 653.8 264.2 651.0 261.3 649.6 C258.4 648.2 254.8 647.5 251.6 647.5 C248.4 647.5 244.9 648.0 242.0 649.6 C239.1 651.2 236.2 653.8 234.4 657.1 C232.6 660.4 231.4 665.1 231.0 669.5 C230.6 673.9 230.8 678.7 231.7 683.3 C232.6 687.9 234.4 692.6 236.5 697.0 C238.6 701.4 241.3 705.6 244.1 709.4 C246.8 713.2 251.5 718.0 253.0 719.7" fill="none" stroke="#E2A25A" stroke-width="6" stroke-linecap="round" stroke-linejoin="round"/>
<path d="M275.0 661.3 C274.0 660.4 271.1 657.8 268.8 655.8 C266.5 653.8 264.2 651.0 261.3 649.6 C258.4 648.2 254.8 647.5 251.6 647.5 C248.4 647.5 244.9 648.0 242.0 649.6 C239.1 651.2 236.2 653.8 234.4 657.1 C232.6 660.4 231.4 665.1 231.0 669.5 C230.6 673.9 230.8 678.7 231.7 683.3 C232.6 687.9 234.4 692.6 236.5 697.0 C238.6 701.4 241.3 705.6 244.1 709.4 C246.8 713.2 251.5 718.0 253.0 719.7" fill="none" stroke="#F3C98E" stroke-width="1.6" stroke-linecap="round" opacity=".45"/>
<polyline points="275.7,662.0 259.2,675.0 264.0,689.5 253.7,701.2 255.0,720.0" fill="none" stroke="#E2A25A" stroke-width="4.2" stroke-linejoin="miter" stroke-linecap="round"/>
<polyline points="261.3,721.8 259.2,702.5 268.8,692.2 264.0,676.4 277.8,663.3" fill="none" stroke="#DC5548" stroke-width="4.5" stroke-linejoin="miter"/>
<path d="M277.8 663.3 C280.1 663.0 287.4 660.7 291.5 661.3 C295.6 661.9 299.6 664.0 302.5 666.8 C305.4 669.5 307.6 673.9 308.7 677.8 C309.8 681.7 309.9 686.2 309.4 690.2 C308.9 694.2 307.7 698.0 305.5 701.5 C303.3 705.0 299.9 708.1 296.0 711.0 C292.1 713.9 286.8 716.9 281.9 719.0 C277.0 721.1 270.2 723.4 266.8 723.9 C263.4 724.4 262.2 722.1 261.3 721.8 L259.2 702.5 L268.8 692.2 L264.0 676.4 Z" fill="url(#pinkg)" stroke="#DD98CD" stroke-width="1"/>
<circle cx="277.8" cy="651.6" r="8.1" fill="none" stroke="#E2A25A" stroke-width="4.4"/>
<circle cx="277.8" cy="651.6" r="8.7" fill="none" stroke="#F3C98E" stroke-width="1" stroke-dasharray="14 60"/>
<circle cx="293.5" cy="714.5" r="2.3" fill="#E2A25A"/>
<line x1="519.75" y1="635.5" x2="506" y2="621.5" stroke="#E2A25A" stroke-width="3.8" stroke-linecap="round"/>
<path d="M533.2 655.0 C531.6 654.8 526.9 653.5 523.5 653.5 C520.1 653.5 516.2 653.8 513.0 655.0 C509.8 656.2 506.2 658.2 504.0 661.0 C501.8 663.8 500.0 667.8 499.5 671.5 C499.0 675.2 499.8 679.8 501.0 683.5 C502.2 687.2 504.2 690.8 507.0 694.0 C509.8 697.2 513.5 700.2 517.5 703.0 C521.5 705.8 526.2 708.5 531.0 710.5 C535.8 712.5 541.8 714.2 546.0 715.0 C550.2 715.8 554.8 715.2 556.5 715.3" fill="none" stroke="#E2A25A" stroke-width="6" stroke-linecap="round" stroke-linejoin="round"/>
<path d="M533.2 655.0 C531.6 654.8 526.9 653.5 523.5 653.5 C520.1 653.5 516.2 653.8 513.0 655.0 C509.8 656.2 506.2 658.2 504.0 661.0 C501.8 663.8 500.0 667.8 499.5 671.5 C499.0 675.2 499.8 679.8 501.0 683.5 C502.2 687.2 504.2 690.8 507.0 694.0 C509.8 697.2 513.5 700.2 517.5 703.0 C521.5 705.8 526.2 708.5 531.0 710.5 C535.8 712.5 541.8 714.2 546.0 715.0 C550.2 715.8 554.8 715.2 556.5 715.3" fill="none" stroke="#F3C98E" stroke-width="1.6" stroke-linecap="round" opacity=".45"/>
<polyline points="534.0,654.2 530.7,673.8 546.0,683.0 541.2,699.5 554.5,708.2 557.2,715.3" fill="none" stroke="#E2A25A" stroke-width="4.2" stroke-linejoin="miter" stroke-linecap="round"/>
<polyline points="559.5,710.8 546.0,701.8 550.5,683.8 534.8,674.2 537.8,647.5" fill="none" stroke="#DC5548" stroke-width="4.5" stroke-linejoin="miter"/>
<path d="M537.8 647.5 C539.1 646.2 542.6 641.6 546.0 640.0 C549.4 638.4 554.2 637.4 558.0 637.8 C561.8 638.1 565.5 639.9 568.5 642.2 C571.5 644.6 574.1 647.9 576.0 652.0 C577.9 656.1 579.1 662.0 579.8 667.0 C580.4 672.0 580.4 677.2 579.8 682.0 C579.1 686.8 577.9 691.5 576.0 695.5 C574.1 699.5 571.2 703.5 568.5 706.0 C565.8 708.5 561.0 710.0 559.5 710.8 L546.0 701.8 L550.5 683.8 L534.8 674.2 Z" fill="url(#pinkg)" stroke="#DD98CD" stroke-width="1"/>
<circle cx="525.75" cy="643.75" r="8.1" fill="none" stroke="#E2A25A" stroke-width="4.4"/>
<circle cx="525.75" cy="643.75" r="8.7" fill="none" stroke="#F3C98E" stroke-width="1" stroke-dasharray="14 60"/>
<circle cx="581" cy="681" r="2.3" fill="#E2A25A"/>
<line x1="666.25" y1="459.75" x2="651" y2="454.5" stroke="#E2A25A" stroke-width="3.8" stroke-linecap="round"/>
<path d="M684.2 465.8 C682.4 466.9 676.0 469.6 673.0 472.5 C670.0 475.4 667.5 479.2 666.2 483.0 C665.0 486.8 664.9 491.2 665.5 495.0 C666.1 498.8 667.5 502.5 670.0 505.5 C672.5 508.5 676.2 511.2 680.5 513.0 C684.8 514.8 690.2 515.9 695.5 516.0 C700.8 516.1 706.8 515.0 712.0 513.8 C717.2 512.5 722.6 510.2 727.0 508.5 C731.4 506.8 736.4 504.1 738.2 503.2" fill="none" stroke="#E2A25A" stroke-width="6" stroke-linecap="round" stroke-linejoin="round"/>
<path d="M684.2 465.8 C682.4 466.9 676.0 469.6 673.0 472.5 C670.0 475.4 667.5 479.2 666.2 483.0 C665.0 486.8 664.9 491.2 665.5 495.0 C666.1 498.8 667.5 502.5 670.0 505.5 C672.5 508.5 676.2 511.2 680.5 513.0 C684.8 514.8 690.2 515.9 695.5 516.0 C700.8 516.1 706.8 515.0 712.0 513.8 C717.2 512.5 722.6 510.2 727.0 508.5 C731.4 506.8 736.4 504.1 738.2 503.2" fill="none" stroke="#F3C98E" stroke-width="1.6" stroke-linecap="round" opacity=".45"/>
<polyline points="685.3,466.8 691.5,485.5 710.8,484.2 716.0,498.8 730.0,501.0 738.2,503.2" fill="none" stroke="#E2A25A" stroke-width="4.2" stroke-linejoin="miter" stroke-linecap="round"/>
<polyline points="739.0,498.0 718.8,494.2 713.5,480.8 693.2,479.2 686.5,462.0 686.5,451.5" fill="none" stroke="#DC5548" stroke-width="4.5" stroke-linejoin="miter"/>
<path d="M686.5 451.5 C688.0 450.0 692.0 444.6 695.5 442.5 C699.0 440.4 703.5 439.0 707.5 438.8 C711.5 438.5 715.8 439.2 719.5 441.0 C723.2 442.8 727.0 445.8 730.0 449.2 C733.0 452.8 735.5 457.4 737.5 462.0 C739.5 466.6 741.2 472.2 742.0 477.0 C742.8 481.8 742.5 487.0 742.0 490.5 C741.5 494.0 739.5 496.8 739.0 498.0 L718.8 494.2 L713.5 480.8 L693.2 479.2 L686.5 462.0 Z" fill="url(#pinkg)" stroke="#DD98CD" stroke-width="1"/>
<circle cx="674.8" cy="458.7" r="8.1" fill="none" stroke="#E2A25A" stroke-width="4.4"/>
<circle cx="674.8" cy="458.7" r="8.7" fill="none" stroke="#F3C98E" stroke-width="1" stroke-dasharray="14 60"/>
<circle cx="741" cy="464.5" r="2.3" fill="#E2A25A"/>
<circle cx="67.5" cy="530.6" r="0.8" fill="#F7E0F3" opacity=".8"/>
<circle cx="89.1" cy="530.1" r="0.6" fill="#F7E0F3" opacity=".8"/>
<circle cx="89.3" cy="529.1" r="0.6" fill="#D48FC8" opacity=".55"/>
<circle cx="65.7" cy="526.7" r="0.5" fill="#F7E0F3" opacity=".8"/>
<circle cx="51.0" cy="531.6" r="0.5" fill="#F7E0F3" opacity=".8"/>
<circle cx="75.4" cy="537.5" r="1.0" fill="#D48FC8" opacity=".55"/>
<circle cx="57.5" cy="520.3" r="0.9" fill="#F7E0F3" opacity=".8"/>
<circle cx="95.1" cy="529.3" r="0.6" fill="#F7E0F3" opacity=".8"/>
<circle cx="77.5" cy="529.3" r="0.7" fill="#D48FC8" opacity=".55"/>
<circle cx="76.5" cy="518.8" r="0.7" fill="#F7E0F3" opacity=".8"/>
<circle cx="61.8" cy="517.5" r="0.7" fill="#F7E0F3" opacity=".8"/>
<circle cx="77.9" cy="526.5" r="0.7" fill="#D48FC8" opacity=".55"/>
<circle cx="64.8" cy="515.5" r="0.6" fill="#F7E0F3" opacity=".8"/>
<circle cx="57.0" cy="519.5" r="0.6" fill="#F7E0F3" opacity=".8"/>
<circle cx="78.0" cy="512.1" r="0.7" fill="#D48FC8" opacity=".55"/>
<circle cx="55.2" cy="519.8" r="0.9" fill="#F7E0F3" opacity=".8"/>
<circle cx="70.2" cy="516.5" r="0.9" fill="#F7E0F3" opacity=".8"/>
<circle cx="84.4" cy="532.0" r="0.9" fill="#D48FC8" opacity=".55"/>
<circle cx="82.5" cy="534.1" r="0.5" fill="#F7E0F3" opacity=".8"/>
<circle cx="60.8" cy="512.8" r="0.7" fill="#F7E0F3" opacity=".8"/>
<circle cx="82.3" cy="518.7" r="0.9" fill="#D48FC8" opacity=".55"/>
<circle cx="55.6" cy="518.2" r="0.7" fill="#F7E0F3" opacity=".8"/>
<circle cx="85.5" cy="511.9" r="0.7" fill="#F7E0F3" opacity=".8"/>
<circle cx="68.7" cy="521.6" r="0.9" fill="#D48FC8" opacity=".55"/>
<circle cx="56.4" cy="512.3" r="0.8" fill="#F7E0F3" opacity=".8"/>
<circle cx="68.5" cy="534.7" r="0.8" fill="#F7E0F3" opacity=".8"/>
<circle cx="89.5" cy="526.5" r="0.7" fill="#D48FC8" opacity=".55"/>
<circle cx="76.7" cy="527.6" r="0.8" fill="#F7E0F3" opacity=".8"/>
<circle cx="80.9" cy="530.8" r="0.7" fill="#F7E0F3" opacity=".8"/>
<circle cx="77.1" cy="521.7" r="0.8" fill="#D48FC8" opacity=".55"/>
<circle cx="48.7" cy="520.4" r="0.8" fill="#F7E0F3" opacity=".8"/>
<circle cx="81.0" cy="518.6" r="0.7" fill="#F7E0F3" opacity=".8"/>
<circle cx="56.6" cy="536.7" r="1.0" fill="#D48FC8" opacity=".55"/>
<circle cx="78.4" cy="530.5" r="0.6" fill="#F7E0F3" opacity=".8"/>
<circle cx="73.9" cy="536.1" r="0.7" fill="#F7E0F3" opacity=".8"/>
<circle cx="71.9" cy="526.0" r="0.8" fill="#D48FC8" opacity=".55"/>
<circle cx="275.8" cy="703.2" r="0.9" fill="#F7E0F3" opacity=".8"/>
<circle cx="280.3" cy="674.0" r="0.7" fill="#F7E0F3" opacity=".8"/>
<circle cx="283.1" cy="685.0" r="1.0" fill="#D48FC8" opacity=".55"/>
<circle cx="288.2" cy="668.0" r="0.8" fill="#F7E0F3" opacity=".8"/>
<circle cx="276.1" cy="699.5" r="0.5" fill="#F7E0F3" opacity=".8"/>
<circle cx="282.0" cy="685.5" r="0.6" fill="#D48FC8" opacity=".55"/>
<circle cx="286.9" cy="699.3" r="0.6" fill="#F7E0F3" opacity=".8"/>
<circle cx="285.3" cy="690.1" r="0.6" fill="#F7E0F3" opacity=".8"/>
<circle cx="293.7" cy="698.6" r="0.6" fill="#D48FC8" opacity=".55"/>
<circle cx="294.9" cy="676.6" r="0.6" fill="#F7E0F3" opacity=".8"/>
<circle cx="284.8" cy="704.1" r="0.6" fill="#F7E0F3" opacity=".8"/>
<circle cx="296.9" cy="705.4" r="1.0" fill="#D48FC8" opacity=".55"/>
<circle cx="272.8" cy="693.5" r="0.5" fill="#F7E0F3" opacity=".8"/>
<circle cx="293.4" cy="698.4" r="0.6" fill="#F7E0F3" opacity=".8"/>
<circle cx="288.4" cy="681.5" r="0.6" fill="#D48FC8" opacity=".55"/>
<circle cx="297.5" cy="684.7" r="0.6" fill="#F7E0F3" opacity=".8"/>
<circle cx="282.1" cy="688.9" r="0.7" fill="#F7E0F3" opacity=".8"/>
<circle cx="301.6" cy="687.0" r="0.9" fill="#D48FC8" opacity=".55"/>
<circle cx="284.2" cy="704.5" r="0.6" fill="#F7E0F3" opacity=".8"/>
<circle cx="286.8" cy="672.7" r="0.8" fill="#F7E0F3" opacity=".8"/>
<circle cx="280.9" cy="699.9" r="0.9" fill="#D48FC8" opacity=".55"/>
<circle cx="301.5" cy="687.9" r="0.8" fill="#F7E0F3" opacity=".8"/>
<circle cx="291.4" cy="671.2" r="0.6" fill="#F7E0F3" opacity=".8"/>
<circle cx="274.3" cy="688.4" r="0.6" fill="#D48FC8" opacity=".55"/>
<circle cx="294.4" cy="692.2" r="0.6" fill="#F7E0F3" opacity=".8"/>
<circle cx="278.8" cy="668.0" r="0.7" fill="#F7E0F3" opacity=".8"/>
<circle cx="301.5" cy="680.8" r="1.0" fill="#D48FC8" opacity=".55"/>
<circle cx="279.4" cy="698.5" r="0.6" fill="#F7E0F3" opacity=".8"/>
<circle cx="287.7" cy="700.2" r="0.7" fill="#F7E0F3" opacity=".8"/>
<circle cx="298.4" cy="677.1" r="0.8" fill="#D48FC8" opacity=".55"/>
<circle cx="275.8" cy="672.4" r="0.5" fill="#F7E0F3" opacity=".8"/>
<circle cx="275.9" cy="670.6" r="0.8" fill="#F7E0F3" opacity=".8"/>
<circle cx="285.0" cy="673.4" r="0.7" fill="#D48FC8" opacity=".55"/>
<circle cx="287.5" cy="676.6" r="0.8" fill="#F7E0F3" opacity=".8"/>
<circle cx="296.1" cy="687.3" r="0.7" fill="#F7E0F3" opacity=".8"/>
<circle cx="299.5" cy="683.3" r="0.7" fill="#D48FC8" opacity=".55"/>
<circle cx="564.1" cy="679.2" r="0.9" fill="#F7E0F3" opacity=".8"/>
<circle cx="562.0" cy="662.7" r="0.8" fill="#F7E0F3" opacity=".8"/>
<circle cx="572.1" cy="669.4" r="0.7" fill="#D48FC8" opacity=".55"/>
<circle cx="554.8" cy="669.2" r="0.5" fill="#F7E0F3" opacity=".8"/>
<circle cx="571.9" cy="668.2" r="0.7" fill="#F7E0F3" opacity=".8"/>
<circle cx="569.0" cy="665.1" r="0.9" fill="#D48FC8" opacity=".55"/>
<circle cx="563.2" cy="661.4" r="0.6" fill="#F7E0F3" opacity=".8"/>
<circle cx="558.0" cy="684.3" r="0.7" fill="#F7E0F3" opacity=".8"/>
<circle cx="559.4" cy="688.8" r="0.7" fill="#D48FC8" opacity=".55"/>
<circle cx="567.5" cy="663.7" r="0.7" fill="#F7E0F3" opacity=".8"/>
<circle cx="547.6" cy="659.6" r="0.7" fill="#F7E0F3" opacity=".8"/>
<circle cx="569.2" cy="662.9" r="0.8" fill="#D48FC8" opacity=".55"/>
<circle cx="558.0" cy="671.5" r="0.7" fill="#F7E0F3" opacity=".8"/>
<circle cx="560.4" cy="673.5" r="0.8" fill="#F7E0F3" opacity=".8"/>
<circle cx="564.8" cy="687.8" r="0.9" fill="#D48FC8" opacity=".55"/>
<circle cx="552.0" cy="666.8" r="0.7" fill="#F7E0F3" opacity=".8"/>
<circle cx="547.5" cy="664.1" r="0.5" fill="#F7E0F3" opacity=".8"/>
<circle cx="553.1" cy="667.2" r="0.7" fill="#D48FC8" opacity=".55"/>
<circle cx="561.5" cy="653.7" r="0.7" fill="#F7E0F3" opacity=".8"/>
<circle cx="560.9" cy="647.2" r="0.7" fill="#F7E0F3" opacity=".8"/>
<circle cx="551.9" cy="660.0" r="0.8" fill="#D48FC8" opacity=".55"/>
<circle cx="556.4" cy="655.6" r="0.7" fill="#F7E0F3" opacity=".8"/>
<circle cx="545.6" cy="675.5" r="0.8" fill="#F7E0F3" opacity=".8"/>
<circle cx="570.4" cy="654.3" r="0.7" fill="#D48FC8" opacity=".55"/>
<circle cx="546.4" cy="662.8" r="0.8" fill="#F7E0F3" opacity=".8"/>
<circle cx="563.4" cy="678.9" r="0.7" fill="#F7E0F3" opacity=".8"/>
<circle cx="566.6" cy="677.6" r="0.6" fill="#D48FC8" opacity=".55"/>
<circle cx="553.6" cy="651.9" r="0.9" fill="#F7E0F3" opacity=".8"/>
<circle cx="567.2" cy="690.2" r="0.8" fill="#F7E0F3" opacity=".8"/>
<circle cx="568.8" cy="691.1" r="1.0" fill="#D48FC8" opacity=".55"/>
<circle cx="562.8" cy="696.9" r="0.7" fill="#F7E0F3" opacity=".8"/>
<circle cx="545.1" cy="674.1" r="0.8" fill="#F7E0F3" opacity=".8"/>
<circle cx="565.2" cy="686.5" r="0.8" fill="#D48FC8" opacity=".55"/>
<circle cx="556.5" cy="681.7" r="0.6" fill="#F7E0F3" opacity=".8"/>
<circle cx="559.6" cy="668.4" r="0.7" fill="#F7E0F3" opacity=".8"/>
<circle cx="558.1" cy="673.3" r="0.7" fill="#D48FC8" opacity=".55"/>
<circle cx="704.8" cy="454.5" r="0.5" fill="#F7E0F3" opacity=".8"/>
<circle cx="732.7" cy="461.6" r="0.9" fill="#F7E0F3" opacity=".8"/>
<circle cx="723.2" cy="468.4" r="0.6" fill="#D48FC8" opacity=".55"/>
<circle cx="716.9" cy="454.3" r="0.6" fill="#F7E0F3" opacity=".8"/>
<circle cx="698.1" cy="470.6" r="0.8" fill="#F7E0F3" opacity=".8"/>
<circle cx="714.6" cy="469.6" r="1.0" fill="#D48FC8" opacity=".55"/>
<circle cx="699.9" cy="456.9" r="0.5" fill="#F7E0F3" opacity=".8"/>
<circle cx="730.5" cy="468.0" r="0.7" fill="#F7E0F3" opacity=".8"/>
<circle cx="732.4" cy="470.2" r="0.9" fill="#D48FC8" opacity=".55"/>
<circle cx="716.8" cy="458.3" r="0.8" fill="#F7E0F3" opacity=".8"/>
<circle cx="732.0" cy="469.4" r="0.7" fill="#F7E0F3" opacity=".8"/>
<circle cx="707.1" cy="473.7" r="1.0" fill="#D48FC8" opacity=".55"/>
<circle cx="714.2" cy="469.1" r="0.7" fill="#F7E0F3" opacity=".8"/>
<circle cx="715.5" cy="468.6" r="0.6" fill="#F7E0F3" opacity=".8"/>
<circle cx="723.5" cy="465.4" r="0.7" fill="#D48FC8" opacity=".55"/>
<circle cx="709.1" cy="476.9" r="0.6" fill="#F7E0F3" opacity=".8"/>
<circle cx="706.6" cy="463.0" r="0.6" fill="#F7E0F3" opacity=".8"/>
<circle cx="724.9" cy="464.0" r="0.6" fill="#D48FC8" opacity=".55"/>
<circle cx="713.4" cy="450.5" r="0.6" fill="#F7E0F3" opacity=".8"/>
<circle cx="695.9" cy="465.6" r="0.5" fill="#F7E0F3" opacity=".8"/>
<circle cx="720.5" cy="452.9" r="0.8" fill="#D48FC8" opacity=".55"/>
<circle cx="721.4" cy="453.8" r="0.7" fill="#F7E0F3" opacity=".8"/>
<circle cx="707.4" cy="447.4" r="0.6" fill="#F7E0F3" opacity=".8"/>
<circle cx="723.3" cy="450.6" r="0.9" fill="#D48FC8" opacity=".55"/>
<circle cx="705.3" cy="468.6" r="0.5" fill="#F7E0F3" opacity=".8"/>
<circle cx="718.6" cy="466.3" r="0.8" fill="#F7E0F3" opacity=".8"/>
<circle cx="714.7" cy="469.9" r="0.6" fill="#D48FC8" opacity=".55"/>
<circle cx="725.1" cy="449.7" r="0.8" fill="#F7E0F3" opacity=".8"/>
<circle cx="713.0" cy="471.2" r="0.6" fill="#F7E0F3" opacity=".8"/>
<circle cx="707.3" cy="464.7" r="0.8" fill="#D48FC8" opacity=".55"/>
<circle cx="713.4" cy="479.6" r="0.9" fill="#F7E0F3" opacity=".8"/>
<circle cx="705.5" cy="460.6" r="0.9" fill="#F7E0F3" opacity=".8"/>
<circle cx="710.6" cy="472.4" r="0.6" fill="#D48FC8" opacity=".55"/>
<circle cx="704.9" cy="470.9" r="0.7" fill="#F7E0F3" opacity=".8"/>
<circle cx="719.3" cy="474.5" r="0.5" fill="#F7E0F3" opacity=".8"/>
<circle cx="714.5" cy="468.1" r="0.8" fill="#D48FC8" opacity=".55"/>
</g>

<!-- annotations -->
<g id="anno" fill="none" stroke="#0a0a0a">
<path d="M 534.3 450 A 166.2 166.2 0 1 0 467.2 510.3" stroke-width="3.2"/>
<path d="M485.8 500.1L463.8 504.4L471.1 517.1Z" fill="#0a0a0a" stroke="none"/>
<path d="M561.4 538.4L572.2 529.4M566.8 533.9L603.9 571.7L681.5 571.7M586.4 565L597 555.6" stroke-width="3.1"/>
<path d="M211.3 638L211.3 737.5" stroke-width="3.15"/><path d="M212.9 739L312.9 739" stroke-width="3.1"/>
</g>
<g id="labels" stroke="none" filter="url(#noop)">
<text x="244.9" y="357.4" font-size="46" textLength="304" lengthAdjust="spacingAndGlyphs">Circumference:</text>
<text x="330.4" y="412.4" font-size="47.6" textLength="121.4" lengthAdjust="spacingAndGlyphs">36CM</text>
<text x="611.4" y="567.5" font-size="23" textLength="69.2" lengthAdjust="spacingAndGlyphs">0.5CM</text>
<text x="178" y="633.6" font-size="23" textLength="68.7" lengthAdjust="spacingAndGlyphs">1.3CM</text>
<text x="277.5" y="760.4" font-size="23" textLength="68.2" lengthAdjust="spacingAndGlyphs">1.3CM</text>
<text x="28.3" y="781.2" font-size="31.8" textLength="249.6" lengthAdjust="spacingAndGlyphs">Net Weight:13.5G</text>
</g>
</svg>
</body></html>
